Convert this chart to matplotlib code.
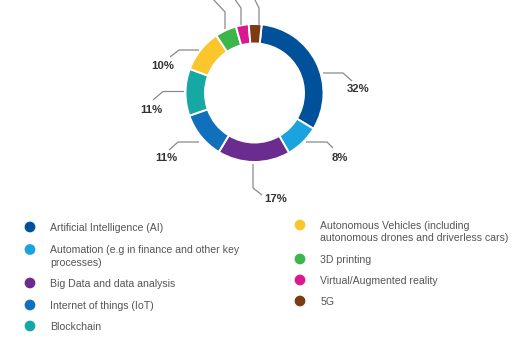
import matplotlib.pyplot as plt

plt.rcParams['font.family'] = ['Liberation Sans', 'DejaVu Sans']

categories = [
    "Artificial Intelligence (AI)",
    "Automation (e.g in finance and other key\nprocesses)",
    "Big Data and data analysis",
    "Internet of things (IoT)",
    "Blockchain",
    "Autonomous Vehicles (including\nautonomous drones and driverless cars)",
    "3D printing",
    "Virtual/Augmented reality",
    "5G",
]
shares = [32, 8, 17, 11, 11, 10, 5, 3, 3]
colors = ["#00509a", "#1ba3e0", "#6a2d8f", "#1170bb", "#16a8a2",
          "#fbc52c", "#3cb54a", "#d9198d", "#7a3c12"]

W, H = 512, 341
fig = plt.figure(figsize=(W / 100, H / 100), dpi=100)
ax = fig.add_axes([0, 0, 1, 1])


def Y(y):
    # pixel rows counted from the top
    return H - y


ax.pie(shares, colors=colors, startangle=84, counterclock=False,
       radius=69, center=(254.5, Y(93)),
       wedgeprops=dict(width=19.5, edgecolor="white", linewidth=1.4))

# leader lines (pixel paths) and label centres, in the same order as shares
leaders = [
    [(323, 73), (343, 73), (352, 81)],
    [(306, 142), (327, 142), (333, 148)],
    [(253, 164), (253, 188), (262, 195)],
    [(199, 142), (178, 142), (169, 150)],
    [(184, 91.5), (163, 91.5), (153, 100)],
    [(199, 50), (179, 50), (170, 57)],
    [(225, 29), (225, 12), (212, -2)],
    [(241, 25), (241, 8), (234, -2)],
    [(259, 25), (259, 8), (254, -2)],
]
label_pos = [(358.5, 89.5), (340, 158), (275.5, 199.5), (166, 158),
             (151, 110), (162.5, 66), None, None, None]

for pct, path, pos in zip(shares, leaders, label_pos):
    xs = [p[0] for p in path]
    ys = [Y(p[1]) for p in path]
    ax.plot(xs, ys, color="#8a8a8a", lw=0.9, solid_capstyle="butt")
    if pos is not None:
        ax.text(pos[0], Y(pos[1]), f"{pct}%", ha="center", va="center",
                fontsize=8.2, fontweight="bold", color="#333333")

# legend in two columns; wrapped names are drawn line by line
legend_rows = [(30, 227), (30, 249.5), (30, 283), (30, 305), (30, 326),
               (300, 225), (300, 259), (300, 280), (300, 301)]
for name, col, (mx, my) in zip(categories, colors, legend_rows):
    ax.scatter([mx], [Y(my)], s=60, color=col, edgecolors="none", zorder=3)
    for i, line in enumerate(name.split("\n")):
        ax.text(mx + 20.5, Y(my + 12.5 * i) - 3.6, line, ha="left",
                va="baseline", fontsize=7.6, color="#555555")

ax.set_xlim(0, W)
ax.set_ylim(0, H)
ax.set_aspect("equal")
ax.axis("off")

fig.savefig("out.png", dpi=100, facecolor="white")
